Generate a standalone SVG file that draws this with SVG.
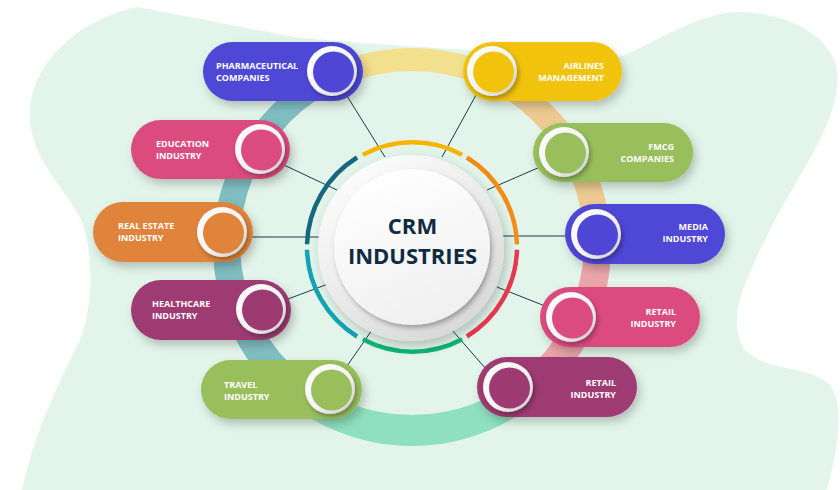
<svg xmlns="http://www.w3.org/2000/svg" width="840" height="490" viewBox="0 0 840 490">
<defs>
<style>
.lbl{font-family:"Open Sans","Liberation Sans",sans-serif;font-weight:700;font-size:9px;fill:#ffffff}
.end{text-anchor:end}
.title{font-family:"Open Sans","Liberation Sans",sans-serif;font-weight:700;font-size:22px;fill:#0f2b42;text-anchor:middle}
.conn{stroke:#1c3a4f;stroke-width:1;fill:none}
.arc{fill:none;stroke-width:4.5}
.ko{fill:url(#knobG);filter:url(#ksh)}
.pill{filter:url(#psh)}
</style>
<linearGradient id="knobG" x1="0" y1="0" x2="1" y2="1">
<stop offset="0" stop-color="#ffffff"/><stop offset="0.55" stop-color="#f3f3f3"/><stop offset="1" stop-color="#c9c9c9"/>
</linearGradient>
<linearGradient id="discO" x1="0.2" y1="0.1" x2="0.8" y2="0.95">
<stop offset="0" stop-color="#fbfbfb"/><stop offset="1" stop-color="#d8d8d8"/>
</linearGradient>
<linearGradient id="discI" x1="0.3" y1="0" x2="0.7" y2="1">
<stop offset="0" stop-color="#ffffff"/><stop offset="1" stop-color="#efefef"/>
</linearGradient>
<filter id="psh" x="-20%" y="-30%" width="140%" height="170%">
<feDropShadow dx="3" dy="5" stdDeviation="5" flood-color="#000" flood-opacity="0.22"/>
</filter>
<filter id="ksh" x="-40%" y="-40%" width="190%" height="190%">
<feDropShadow dx="2" dy="3" stdDeviation="2.5" flood-color="#000" flood-opacity="0.3"/>
</filter>
<filter id="dsh" x="-30%" y="-30%" width="170%" height="170%">
<feDropShadow dx="3" dy="5" stdDeviation="6" flood-color="#000" flood-opacity="0.22"/>
</filter>
<path id="ring" fill-rule="evenodd" d="M 213 247 A 199 199 0 1 0 611 247 A 199 199 0 1 0 213 247 Z M 240 243 A 172 172 0 1 0 584 243 A 172 172 0 1 0 240 243 Z"/>
<clipPath id="wTeal"><polygon points="412,247 262,506.8 152.2,397 112,247 152.2,97 285.2,-24.9"/></clipPath>
<clipPath id="wYel"><polygon points="412,247 285.2,-24.9 412,-53 538.8,-24.9"/></clipPath>
<clipPath id="wTan"><polygon points="412,247 538.8,-24.9 671.8,97 712,247"/></clipPath>
<clipPath id="wPink"><polygon points="412,247 712,247 676.9,387.9 579.8,495.7"/></clipPath>
<clipPath id="wMint"><polygon points="412,247 579.8,495.7 422.5,546.8 262,506.8"/></clipPath>
</defs>

<rect width="840" height="490" fill="#ffffff"/>
<path id="blob" fill="#e3f5ea" d="M 137 7 L 300 38 Q 470 52 620 57 C 660 40 700 12 740 12 C 790 14 830 35 837 70 C 842 120 800 170 770 230 C 745 280 725 320 745 350 C 765 372 810 365 830 385 C 845 405 838 450 827 490 L 22 490 C 35 430 60 380 80 340 C 95 300 92 250 82 222 C 65 185 28 160 30 110 C 33 60 80 20 137 7 Z"/>

<g id="bigring">
<use href="#ring" fill="#80bec2" clip-path="url(#wTeal)"/>
<use href="#ring" fill="#f2e08e" clip-path="url(#wYel)"/>
<use href="#ring" fill="#ecca92" clip-path="url(#wTan)"/>
<use href="#ring" fill="#e9a5aa" clip-path="url(#wPink)"/>
<use href="#ring" fill="#8ee0c0" clip-path="url(#wMint)"/>
</g>

<g id="connectors">
<line class="conn" x1="347" y1="96" x2="385" y2="157"/>
<line class="conn" x1="476" y1="95" x2="442" y2="157"/>
<line class="conn" x1="284" y1="165" x2="337" y2="190"/>
<line class="conn" x1="540" y1="167" x2="487" y2="190"/>
<line class="conn" x1="250" y1="237" x2="320" y2="237"/>
<line class="conn" x1="503" y1="236" x2="568" y2="236"/>
<line class="conn" x1="288" y1="299" x2="328" y2="284"/>
<line class="conn" x1="497" y1="287" x2="545" y2="306"/>
<line class="conn" x1="347" y1="366" x2="372" y2="330"/>
<line class="conn" x1="452" y1="330" x2="486" y2="369"/>
</g>

<g id="arcs">
<path class="arc" stroke="#f7b500" d="M 362.9 154.7 A 105 105 0 0 1 462.1 154.7"/>
<path class="arc" stroke="#f48c14" d="M 466.9 157.5 A 105 105 0 0 1 516.96 244.25"/>
<path class="arc" stroke="#e8384f" d="M 516.96 249.75 A 105 105 0 0 1 466.9 336.5"/>
<path class="arc" stroke="#0fb37a" d="M 462.1 339.3 A 105 105 0 0 1 362.9 339.3"/>
<path class="arc" stroke="#12a3b5" d="M 357.1 336.5 A 105 105 0 0 1 307.04 249.75"/>
<path class="arc" stroke="#17677f" d="M 307.04 244.25 A 105 105 0 0 1 357.1 157.5"/>
</g>

<g id="center">
<circle cx="411" cy="248" r="93" fill="url(#discO)" filter="url(#dsh)"/>
<circle cx="412" cy="247" r="78" fill="url(#discI)" filter="url(#ksh)"/>
<text class="title" x="412.5" y="234">CRM</text>
<text class="title" x="412.5" y="264">INDUSTRIES</text>
</g>

<g id="pharma">
<rect class="pill" x="203" y="42" width="160" height="59" rx="29.5" fill="#5046d6"/>
<circle class="ko" cx="332" cy="71" r="25"/>
<circle cx="333.5" cy="72" r="20.5" fill="#5046d6"/>
<text class="lbl" x="216" y="69">PHARMACEUTICAL</text>
<text class="lbl" x="216" y="81">COMPANIES</text>
</g>

<g id="airlines">
<rect class="pill" x="463" y="42" width="159" height="59" rx="29.5" fill="#f2c30d"/>
<circle class="ko" cx="492" cy="71" r="25"/>
<circle cx="493.5" cy="72" r="20.5" fill="#f2c30d"/>
<text class="lbl end" x="604" y="69">AIRLINES</text>
<text class="lbl end" x="604" y="81">MANAGEMENT</text>
</g>

<g id="education">
<rect class="pill" x="131" y="120" width="159" height="59" rx="29.5" fill="#dc4b7e"/>
<circle class="ko" cx="260" cy="149" r="25"/>
<circle cx="261.5" cy="150" r="20.5" fill="#dc4b7e"/>
<text class="lbl" x="156" y="147">EDUCATION</text>
<text class="lbl" x="156" y="159">INDUSTRY</text>
</g>

<g id="fmcg">
<rect class="pill" x="533" y="123" width="160" height="59" rx="29.5" fill="#98bf5b"/>
<circle class="ko" cx="564" cy="152" r="25"/>
<circle cx="565.5" cy="153" r="20.5" fill="#98bf5b"/>
<text class="lbl end" x="674" y="150">FMCG</text>
<text class="lbl end" x="674" y="162">COMPANIES</text>
</g>

<g id="realestate">
<rect class="pill" x="93" y="202" width="160" height="60" rx="30" fill="#e0843a"/>
<circle class="ko" cx="222" cy="232" r="25"/>
<circle cx="223.5" cy="233" r="20.5" fill="#e0843a"/>
<text class="lbl" x="118" y="229">REAL ESTATE</text>
<text class="lbl" x="118" y="241">INDUSTRY</text>
</g>

<g id="media">
<rect class="pill" x="565" y="204" width="160" height="60" rx="30" fill="#5046d6"/>
<circle class="ko" cx="596" cy="234" r="25"/>
<circle cx="597.5" cy="235" r="20.5" fill="#5046d6"/>
<text class="lbl end" x="708" y="230">MEDIA</text>
<text class="lbl end" x="708" y="242">INDUSTRY</text>
</g>

<g id="healthcare">
<rect class="pill" x="131" y="280" width="160" height="60" rx="30" fill="#9e3a72"/>
<circle class="ko" cx="261" cy="309" r="25"/>
<circle cx="262.5" cy="310" r="20.5" fill="#9e3a72"/>
<text class="lbl" x="152" y="307">HEALTHCARE</text>
<text class="lbl" x="152" y="319">INDUSTRY</text>
</g>

<g id="retail1">
<rect class="pill" x="540" y="287" width="160" height="60" rx="30" fill="#dc4b7e"/>
<circle class="ko" cx="571" cy="317" r="25"/>
<circle cx="572.5" cy="318" r="20.5" fill="#dc4b7e"/>
<text class="lbl end" x="676" y="315">RETAIL</text>
<text class="lbl end" x="676" y="327">INDUSTRY</text>
</g>

<g id="travel">
<rect class="pill" x="201" y="360" width="161" height="59" rx="29.5" fill="#98bf5b"/>
<circle class="ko" cx="330" cy="389" r="25"/>
<circle cx="331.5" cy="390" r="20.5" fill="#98bf5b"/>
<text class="lbl" x="224" y="388">TRAVEL</text>
<text class="lbl" x="224" y="400">INDUSTRY</text>
</g>

<g id="retail2">
<rect class="pill" x="477" y="357" width="160" height="60" rx="30" fill="#9e3a72"/>
<circle class="ko" cx="508" cy="387" r="25"/>
<circle cx="509.5" cy="388" r="20.5" fill="#9e3a72"/>
<text class="lbl end" x="616" y="386">RETAIL</text>
<text class="lbl end" x="616" y="398">INDUSTRY</text>
</g>
</svg>
